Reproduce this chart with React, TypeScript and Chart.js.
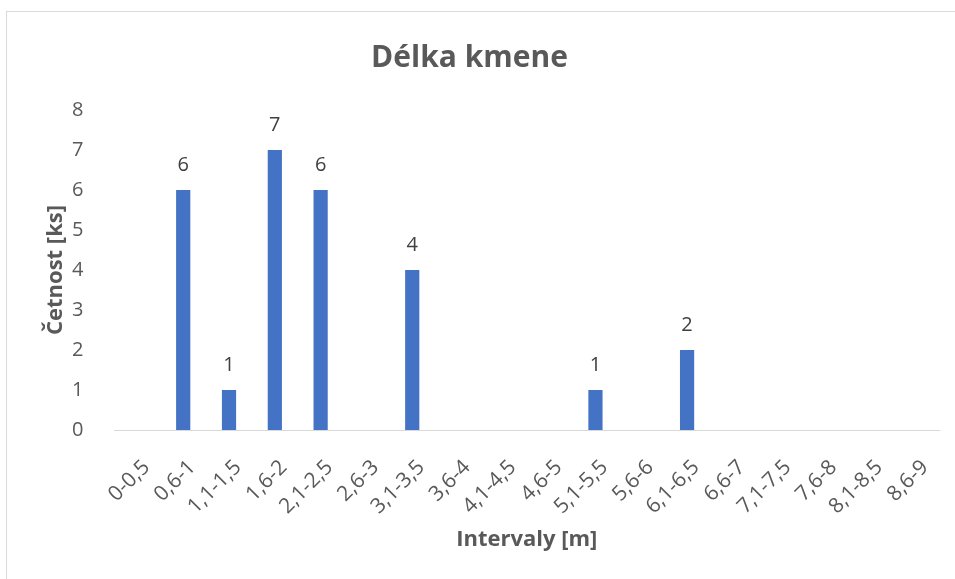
import React, { useEffect, useRef } from "react";
import { Chart, registerables } from "chart.js";

Chart.register(...registerables);

const categories = [
  "0-0,5", "0,6-1", "1,1-1,5", "1,6-2", "2,1-2,5", "2,6-3", "3,1-3,5", "3,6-4", "4,1-4,5",
  "4,6-5", "5,1-5,5", "5,6-6", "6,1-6,5", "6,6-7", "7,1-7,5", "7,6-8", "8,1-8,5", "8,6-9",
];
const counts = [0, 6, 1, 7, 6, 0, 4, 0, 0, 0, 1, 0, 2, 0, 0, 0, 0, 0];
const chartTitle = "Délka kmene";
const yTitle = "Četnost [ks]";
const xTitle = "Intervaly [m]";

const FONT = "'Open Sans', 'Noto Sans', sans-serif";

const dataLabels = {
  id: "dataLabels",
  afterDatasetsDraw(chart: any) {
    const ctx = chart.ctx;
    const meta = chart.getDatasetMeta(0);
    ctx.save();
    ctx.font = `20px ${FONT}`;
    ctx.fillStyle = "#404040";
    ctx.textAlign = "center";
    ctx.textBaseline = "middle";
    meta.data.forEach((bar: any, i: number) => {
      const v = counts[i];
      if (v > 0) ctx.fillText(String(v), bar.x, bar.y - 25);
    });
    ctx.restore();
  },
};

export default function App() {
  const ref = useRef<HTMLCanvasElement | null>(null);
  useEffect(() => {
    document.body.style.margin = "0";
    const chart = new Chart(ref.current as HTMLCanvasElement, {
      type: "bar",
      data: {
        labels: categories,
        datasets: [
          {
            data: counts,
            backgroundColor: "#4472C4",
            barPercentage: 0.31,
            categoryPercentage: 1,
          },
        ],
      },
      options: {
        animation: false,
        responsive: false,
        layout: { padding: { left: 0, right: 16, top: 0, bottom: 0 } },
        plugins: {
          legend: { display: false },
          tooltip: { enabled: false },
          title: {
            display: true,
            text: chartTitle,
            color: "#595959",
            font: { family: FONT, size: 30, weight: "bold" },
            padding: { top: 40, bottom: 34 },
          },
        },
        scales: {
          x: {
            grid: { display: false },
            border: { display: true, color: "#D9D9D9", width: 1 },
            ticks: {
              color: "#595959",
              font: { family: FONT, size: 21 },
              minRotation: 45,
              maxRotation: 45,
              autoSkip: false,
              padding: 17,
              labelOffset: 9,
            },
            title: {
              display: true,
              text: xTitle,
              color: "#595959",
              font: { family: FONT, size: 22, weight: "bold" },
              padding: { top: 0, bottom: 26 },
            },
            afterFit(scale: any) {
              scale.height = 149;
            },
          },
          y: {
            min: 0,
            max: 8,
            grid: { display: false },
            border: { display: false },
            ticks: {
              stepSize: 1,
              color: "#595959",
              font: { family: FONT, size: 20 },
              padding: 23,
            },
            title: {
              display: true,
              text: yTitle,
              color: "#595959",
              font: { family: FONT, size: 22, weight: "bold" },
              padding: { top: 43, bottom: 0 },
            },
            afterFit(scale: any) {
              scale.width = 114.5;
            },
          },
        },
      },
      plugins: [dataLabels],
    });
    return () => chart.destroy();
  }, []);

  return (
    <div style={{ position: "fixed", left: 0, top: 0, width: 955, height: 579, overflow: "hidden", background: "#fff" }}>
      <canvas ref={ref} width={955} height={579} style={{ position: "absolute", left: 0, top: 0 }} />
      <div
        style={{
          position: "absolute",
          left: 6,
          top: 11,
          width: 1000,
          height: 1000,
          borderLeft: "1px solid #D9D9D9",
          borderTop: "1px solid #D9D9D9",
          pointerEvents: "none",
        }}
      />
    </div>
  );
}
